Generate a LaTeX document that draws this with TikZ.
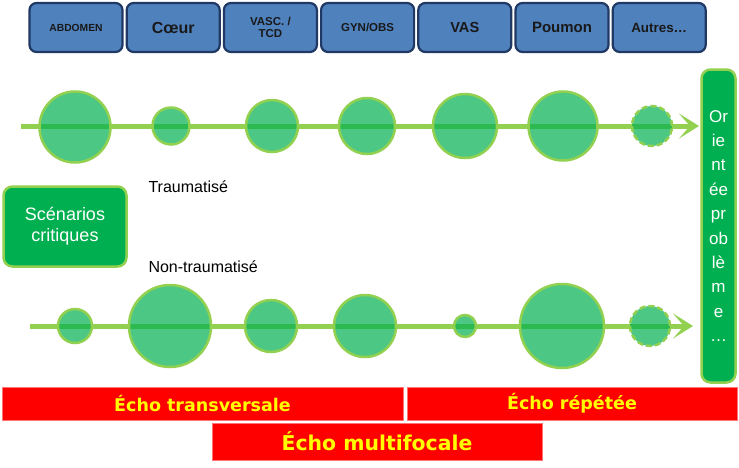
\documentclass[tikz,border=0pt]{standalone}
\usepackage{fontspec}
\setmainfont{Liberation Sans}
\newfontfamily\verdanalike{DejaVu Sans}
\usetikzlibrary{arrows.meta,positioning}
\definecolor{OrganBlue}{HTML}{4F81BD}
\definecolor{OrganNavy}{HTML}{1F3864}
\definecolor{LeafGreen}{HTML}{92D050}
\definecolor{DeepGreen}{HTML}{00B050}
\definecolor{AlarmRed}{HTML}{FF0000}
\definecolor{SignYellow}{HTML}{FFFF00}

\tikzset{
  organ/.style={draw=OrganNavy,line width=2.2pt,fill=OrganBlue,rounded corners=7pt,
    minimum width=93pt,minimum height=49pt,inner sep=1pt,align=center,text=black!90},
  probe/.style={circle,draw=LeafGreen,line width=2.5pt,fill=DeepGreen,fill opacity=0.7,inner sep=0pt},
  spare/.style={probe,dash pattern=on 6pt off 3pt},
  track/.style={draw=LeafGreen,line width=5pt,-{Stealth[length=20pt,width=25pt,inset=11pt]}},
  greenbox/.style={draw=LeafGreen,line width=2.5pt,fill=DeepGreen,rounded corners=9pt,text=white,align=center},
  echobar/.style={draw=AlarmRed!55,line width=0.6pt,fill=AlarmRed,text=SignYellow,inner sep=0pt}
}

\begin{document}
\begin{tikzpicture}[x=1pt,y=-1pt,node distance=2pt]
  \useasboundingbox (0,0) rectangle (739,467);
  % organ boxes along the top
  \node[organ,font=\fontsize{10.3}{12}\selectfont\bfseries] (abd) at (76,27.5) {ABDOMEN};
  \node[organ,font=\fontsize{16}{18}\selectfont\bfseries,right=of abd] (coeur) {Cœur};
  \node[organ,font=\fontsize{11.5}{12.5}\selectfont\bfseries,right=of coeur] (vasc) {VASC. /\\TCD};
  \node[organ,font=\fontsize{11.5}{13}\selectfont\bfseries,right=of vasc] (gyn) {GYN/OBS};
  \node[organ,font=\fontsize{14.6}{16}\selectfont\bfseries,right=of gyn] (vas) {VAS};
  \node[organ,font=\fontsize{15}{17}\selectfont\bfseries,right=of vas] (poumon) {Poumon};
  \node[organ,font=\fontsize{13.4}{15}\selectfont\bfseries,right=of poumon] (autres) {Autres…};

  % target box on the right
  \node[greenbox,minimum width=34pt,minimum height=313pt,inner sep=0pt,
    font=\fontsize{17}{24.4}\selectfont] (orient) at (718.5,226)
    {Or\\ie\\nt\\ée\\pr\\ob\\lè\\m\\e\\…};
  \node[greenbox,minimum width=123pt,minimum height=80pt,
    font=\fontsize{18}{21}\selectfont] (scen) at (65,226.5) {Scénarios\\critiques};
  \node[anchor=west,font=\fontsize{16}{18}\selectfont] (trauma) at (145,187) {Traumatisé};
  \node[anchor=west,font=\fontsize{16}{18}\selectfont] (nontrauma) at (145,267) {Non-traumatisé};

  % tracks
  \coordinate (ta) at (21,126);
  \coordinate (tb) at (699,126);
  \coordinate (na) at (30,326);
  \coordinate (nb) at (693,326);
  \draw[track] (ta) -- (tb);
  \draw[track] (na) -- (nb);

  % probes, traumatised row
  \node[probe,minimum size=71pt] (t1) at (75,127) {};
  \node[probe,minimum size=37pt] (t2) at (171,126) {};
  \node[probe,minimum size=52pt] (t3) at (272,126) {};
  \node[probe,minimum size=56pt] (t4) at (367,126) {};
  \node[probe,minimum size=64pt] (t5) at (465,126) {};
  \node[probe,minimum size=69pt] (t6) at (563,126) {};
  \node[spare,minimum size=40pt] (t7) at (652,126) {};
  % probes, non-traumatised row
  \node[probe,minimum size=34pt] (n1) at (75,326) {};
  \node[probe,minimum size=82pt] (n2) at (170,326) {};
  \node[probe,minimum size=52pt] (n3) at (271,326) {};
  \node[probe,minimum size=62pt] (n4) at (365,326) {};
  \node[probe,minimum size=22pt] (n5) at (465,326) {};
  \node[probe,minimum size=84pt] (n6) at (562,326) {};
  \node[spare,minimum size=40pt] (n7) at (650,326) {};

  % echo bars
  \node[echobar,minimum width=401pt,minimum height=33pt,
    font=\verdanalike\fontsize{17.5}{19}\selectfont\bfseries] (transv) at (202.5,403.5) {Écho transversale};
  \node[echobar,minimum width=330pt,minimum height=33pt,
    font=\verdanalike\fontsize{17.5}{19}\selectfont\bfseries] (repet) at (572,403.5) {Écho répétée};
  \node[echobar,minimum width=330pt,minimum height=37pt,
    font=\verdanalike\fontsize{20.4}{22}\selectfont\bfseries] (multi) at (377,441.5) {Écho multifocale};
\end{tikzpicture}
\end{document}
